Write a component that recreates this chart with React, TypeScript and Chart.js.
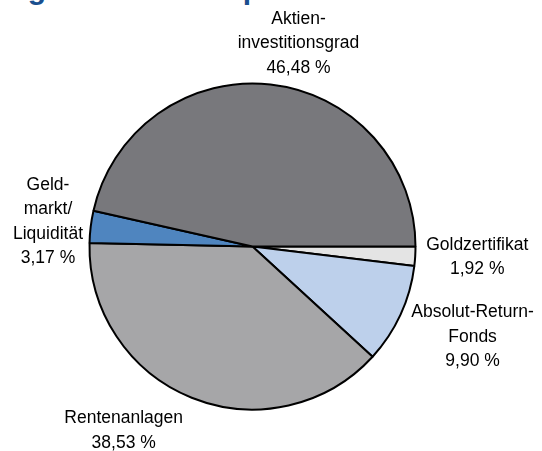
import React, { useEffect, useRef } from "react";
import { Chart, registerables } from "chart.js";

Chart.register(...registerables);

// Data (clockwise from 3 o'clock)
const categories = [
  "Goldzertifikat",
  "Absolut-Return-Fonds",
  "Rentenanlagen",
  "Geldmarkt/Liquidität",
  "Aktieninvestitionsgrad",
];
const values = [1.92, 9.9, 38.53, 3.17, 46.48];
const labelLines = [
  ["Goldzertifikat"],
  ["Absolut-Return-", "Fonds"],
  ["Rentenanlagen"],
  ["Geld-", "markt/", "Liquidität"],
  ["Aktien-", "investitionsgrad"],
];
const sliceColors = ["#E4E4E4", "#BDD0EB", "#A6A6A8", "#4F85BF", "#78787C"];
// label block offset from the slice's outer mid-point (px)
const labelOffsets: [number, number][] = [
  [62, 1],
  [72, 22],
  [-68, 33],
  [-42.7, -5],
  [28, -41],
];

const fmt = (v: number) => v.toFixed(2).replace(".", ",") + " %";

const labelPlugin = {
  id: "outLabels",
  afterDatasetsDraw(chart: any) {
    const ctx = chart.ctx;
    const meta = chart.getDatasetMeta(0);
    ctx.save();
    ctx.font = '17.5px "Liberation Sans", Arial, sans-serif';
    ctx.fillStyle = "#000000";
    ctx.textAlign = "center";
    ctx.textBaseline = "middle";
    meta.data.forEach((arc: any, i: number) => {
      const { x, y, startAngle, endAngle, outerRadius } = arc.getProps(
        ["x", "y", "startAngle", "endAngle", "outerRadius"],
        true
      );
      const mid = (startAngle + endAngle) / 2;
      const ax = x + Math.cos(mid) * outerRadius + labelOffsets[i][0];
      const ay = y + Math.sin(mid) * outerRadius + labelOffsets[i][1];
      const lines = [...labelLines[i], fmt(values[i])];
      const lh = 24.5;
      lines.forEach((t, k) => {
        ctx.fillText(t, ax, ay + (k - (lines.length - 1) / 2) * lh);
      });
    });
    ctx.restore();
  },
};

export default function App() {
  const ref = useRef<HTMLCanvasElement | null>(null);

  useEffect(() => {
    if (!ref.current) return;
    const chart = new Chart(ref.current, {
      type: "pie",
      data: {
        labels: categories,
        datasets: [
          {
            data: values,
            backgroundColor: sliceColors,
            borderColor: "#000000",
            borderWidth: 2,
          },
        ],
      },
      options: {
        responsive: false,
        animation: false,
        rotation: 90,
        layout: {
          padding: { left: 88.5, right: 125.5, top: 82.5, bottom: 40.5 },
        },
        plugins: {
          legend: { display: false },
          tooltip: { enabled: false },
        },
      },
      plugins: [labelPlugin],
    });
    return () => chart.destroy();
  }, []);

  const titleStyle: React.CSSProperties = {
    position: "absolute",
    top: -26,
    font: 'bold 30px/30px "Liberation Sans", Arial, sans-serif',
    color: "#1A4F8F",
    whiteSpace: "pre",
  };

  return (
    <div
      style={{
        position: "absolute",
        left: 0,
        top: 0,
        width: 542,
        height: 451,
        overflow: "hidden",
        background: "#ffffff",
      }}
    >
      <span style={{ ...titleStyle, right: 542 - 46 }}>Vermögensaufteilung</span>
      <span style={{ ...titleStyle, left: 46 }}> im Gesamtdepot</span>
      <canvas
        ref={ref}
        width={542}
        height={451}
        style={{ position: "absolute", left: 0, top: 0, width: 542, height: 451 }}
      />
    </div>
  );
}
